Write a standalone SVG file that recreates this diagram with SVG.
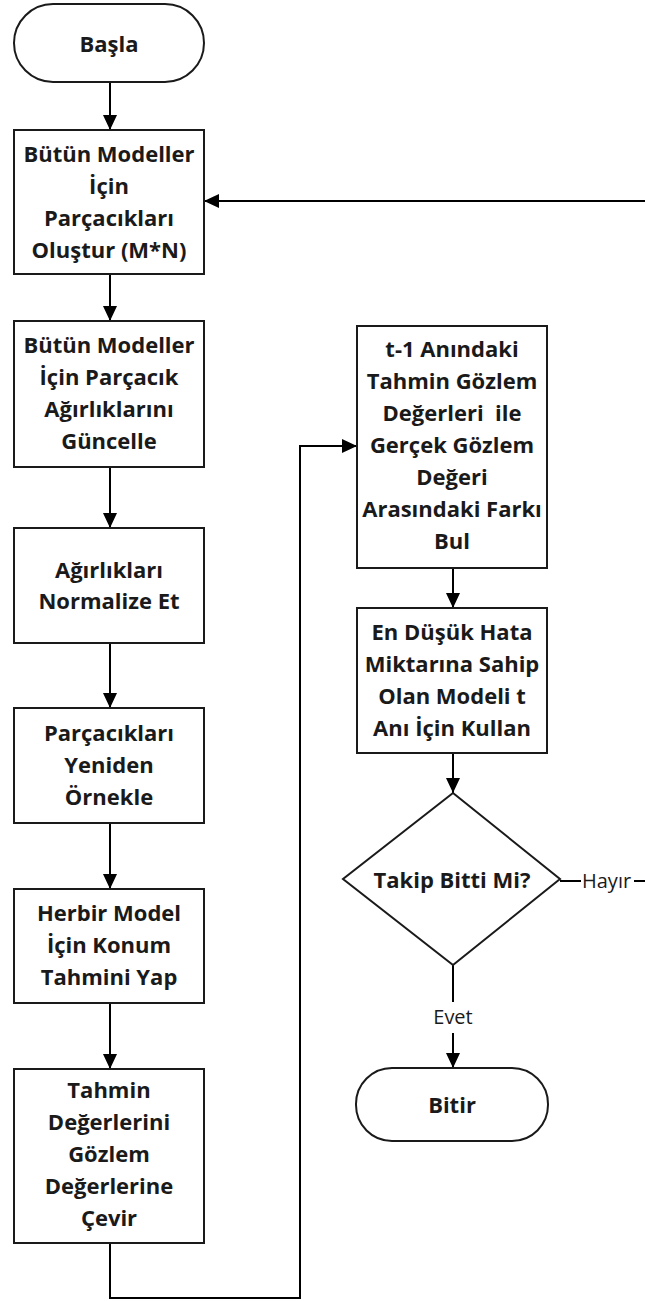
<svg xmlns="http://www.w3.org/2000/svg" width="645" height="1301" viewBox="0 0 645 1301">
  <style>
    .shape { fill: #ffffff; stroke: #1a1a1a; stroke-width: 2; }
    .lbl { font-family: "Open Sans", "Noto Sans", sans-serif; font-weight: bold; font-size: 22px; fill: #1a1a1a; text-anchor: middle; }
    .edge { fill: none; stroke: #000000; stroke-width: 2; }
    .elbl { font-family: "Open Sans", "Noto Sans", sans-serif; font-size: 20px; fill: #1a1a1a; }
  </style>
  <defs>
    <marker id="arrow" markerUnits="userSpaceOnUse" markerWidth="16" markerHeight="16" viewBox="0 0 16 16" refX="15" refY="8" orient="auto">
      <path d="M0,1 L15,8 L0,15 Z" fill="#000000"/>
    </marker>
  </defs>

  <rect width="645" height="1301" fill="#ffffff"/>

  <!-- connectors -->
  <g id="connectors">
    <line class="edge" x1="110" y1="82" x2="110" y2="130" marker-end="url(#arrow)"/>
    <line class="edge" x1="110" y1="274" x2="110" y2="321" marker-end="url(#arrow)"/>
    <line class="edge" x1="110" y1="467" x2="110" y2="528" marker-end="url(#arrow)"/>
    <line class="edge" x1="110" y1="643" x2="110" y2="708" marker-end="url(#arrow)"/>
    <line class="edge" x1="110" y1="823" x2="110" y2="889" marker-end="url(#arrow)"/>
    <line class="edge" x1="110" y1="1003" x2="110" y2="1069" marker-end="url(#arrow)"/>
    <path class="edge" d="M110,1243 V1298 H300 V446 H357" marker-end="url(#arrow)"/>
    <line class="edge" x1="453" y1="568" x2="453" y2="608" marker-end="url(#arrow)"/>
    <line class="edge" x1="453" y1="753" x2="453" y2="793" marker-end="url(#arrow)"/>
    <line class="edge" x1="453" y1="965" x2="453" y2="1002"/>
    <text class="elbl" x="453" y="1024" text-anchor="middle">Evet</text>
    <line class="edge" x1="453" y1="1033" x2="453" y2="1068" marker-end="url(#arrow)"/>
    <line class="edge" x1="560" y1="881" x2="581" y2="881"/>
    <text class="elbl" x="582" y="888">Hayır</text>
    <line class="edge" x1="634" y1="881" x2="645" y2="881"/>
    <line class="edge" x1="645" y1="201" x2="204" y2="201" marker-end="url(#arrow)"/>
  </g>

  <g id="start">
    <rect class="shape" x="14" y="4" width="190" height="78" rx="39" ry="39"/>
    <text class="lbl" x="109" y="52">Başla</text>
  </g>

  <g id="create-particles">
    <rect class="shape" x="14" y="130" width="190" height="144"/>
    <text class="lbl" x="109" y="162">Bütün Modeller</text>
    <text class="lbl" x="109" y="194">İçin</text>
    <text class="lbl" x="109" y="226">Parçacıkları</text>
    <text class="lbl" x="109" y="258">Oluştur (M*N)</text>
  </g>

  <g id="update-weights">
    <rect class="shape" x="14" y="321" width="190" height="146"/>
    <text class="lbl" x="109" y="353">Bütün Modeller</text>
    <text class="lbl" x="109" y="385">İçin Parçacık</text>
    <text class="lbl" x="109" y="417">Ağırlıklarını</text>
    <text class="lbl" x="109" y="449">Güncelle</text>
  </g>

  <g id="normalize">
    <rect class="shape" x="14" y="528" width="190" height="115"/>
    <text class="lbl" x="109" y="578">Ağırlıkları</text>
    <text class="lbl" x="109" y="609">Normalize Et</text>
  </g>

  <g id="resample">
    <rect class="shape" x="14" y="708" width="190" height="115"/>
    <text class="lbl" x="109" y="741">Parçacıkları</text>
    <text class="lbl" x="109" y="773">Yeniden</text>
    <text class="lbl" x="109" y="805">Örnekle</text>
  </g>

  <g id="predict">
    <rect class="shape" x="14" y="889" width="190" height="114"/>
    <text class="lbl" x="109" y="921">Herbir Model</text>
    <text class="lbl" x="109" y="953">İçin Konum</text>
    <text class="lbl" x="109" y="985">Tahmini Yap</text>
  </g>

  <g id="convert">
    <rect class="shape" x="14" y="1069" width="190" height="174"/>
    <text class="lbl" x="109" y="1098">Tahmin</text>
    <text class="lbl" x="109" y="1130">Değerlerini</text>
    <text class="lbl" x="109" y="1162">Gözlem</text>
    <text class="lbl" x="109" y="1194">Değerlerine</text>
    <text class="lbl" x="109" y="1226">Çevir</text>
  </g>

  <g id="difference">
    <rect class="shape" x="357" y="326" width="190" height="242"/>
    <text class="lbl" x="452" y="357">t-1 Anındaki</text>
    <text class="lbl" x="452" y="389">Tahmin Gözlem</text>
    <text class="lbl" x="452" y="421" xml:space="preserve">Değerleri  ile</text>
    <text class="lbl" x="452" y="453">Gerçek Gözlem</text>
    <text class="lbl" x="452" y="485">Değeri</text>
    <text class="lbl" x="452" y="517">Arasındaki Farkı</text>
    <text class="lbl" x="452" y="549">Bul</text>
  </g>

  <g id="select-model">
    <rect class="shape" x="357" y="608" width="190" height="145"/>
    <text class="lbl" x="452" y="640">En Düşük Hata</text>
    <text class="lbl" x="452" y="672">Miktarına Sahip</text>
    <text class="lbl" x="452" y="704">Olan Modeli t</text>
    <text class="lbl" x="452" y="736">Anı İçin Kullan</text>
  </g>

  <g id="decision">
    <polygon class="shape" points="453,793 560,879 453,965 343,879"/>
    <text class="lbl" x="452" y="888">Takip Bitti Mi?</text>
  </g>

  <g id="end">
    <rect class="shape" x="356" y="1068" width="192" height="73" rx="36" ry="36"/>
    <text class="lbl" x="452" y="1113">Bitir</text>
  </g>
</svg>
